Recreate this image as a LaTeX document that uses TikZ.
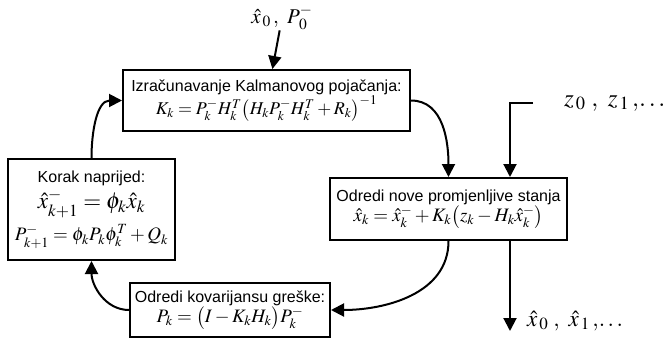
\documentclass[tikz,border=0pt]{standalone}
\usepackage{amsmath}
\usepackage{mathptmx}
\usepackage{fontspec}
\setmainfont{Liberation Sans}
\usetikzlibrary{arrows.meta}

\begin{document}
\begin{tikzpicture}[x=1pt, y=-1pt,
    box/.style={draw, line width=2pt, align=center, inner sep=2pt,
        font=\fontsize{16}{19}\selectfont},
    flow/.style={line width=2pt, -{Triangle[length=13pt, width=13pt]}},
    lbl/.style={inner sep=0pt, font=\fontsize{21}{24}\selectfont}]
    \useasboundingbox (0,0) rectangle (665,349);

    % the four steps of the filter
    \node[box, minimum width=287pt, minimum height=61pt] (gain) at (266.5,100.5)
        {Izračunavanje Kalmanovog pojačanja:\\
         {\fontsize{18}{21}\selectfont $K_k = P_k^- H_k^T\bigl(H_k P_k^- H_k^T + R_k\bigr)^{-1}$}};
    \node[box, minimum width=237pt, minimum height=62pt] (update) at (448.5,209)
        {Odredi nove promjenljive stanja\\
         {\fontsize{19}{22}\selectfont $\hat{x}_k = \hat{x}_k^- + K_k\bigl(z_k - H_k\hat{x}_k^-\bigr)$}};
    \node[box, minimum width=200pt, minimum height=54pt] (cov) at (230,310)
        {Odredi kovarijansu greške:\\
         {\fontsize{19}{22}\selectfont $P_k = \bigl(I - K_k H_k\bigr)P_k^-$}};
    \node[box, minimum width=167pt, minimum height=101pt] (predict) at (91.5,209.5)
        {Korak naprijed:\\[3pt]
         {\fontsize{23}{25}\selectfont $\hat{x}_{k+1}^- = \phi_k\hat{x}_k$}\\[6pt]
         {\fontsize{19}{22}\selectfont $P_{k+1}^- = \phi_k P_k\phi_k^T + Q_k$}};

    % inputs and output
    \node[lbl] (init) at (282,18) {$\hat{x}_{\,0}\,,\ P_{\,0}^-$};
    \coordinate (zin) at (533,103);
    \node[lbl, anchor=west, font=\fontsize{25}{28}\selectfont] (zlab) at (564,103)
        {$z_{\,0}\;,\ z_{\,1}\,,\!\ldots$};
    \coordinate (zx) at (510,0);
    \coordinate (xout) at (510,331);
    \node[lbl, anchor=west, font=\fontsize{23}{26}\selectfont] (xlab) at (527,321)
        {$\hat{x}_{\,0}\;,\ \hat{x}_{\,1}\,,\!\ldots$};

    \draw[flow] (init) -- (gain);
    \draw[flow] (gain.east) to[out=0, in=90] (update.north);
    \draw[flow] (zin) -| (zx |- update.north);
    \draw[flow] (zx |- update.south) -- (xout);
    \draw[flow] (update.south) to[out=-90, in=0] (cov.east);
    \draw[flow] (cov.west) to[out=180, in=-90] (predict.south);
    \draw[flow] (predict.north) to[out=90, in=180] (gain.west);
\end{tikzpicture}
\end{document}
